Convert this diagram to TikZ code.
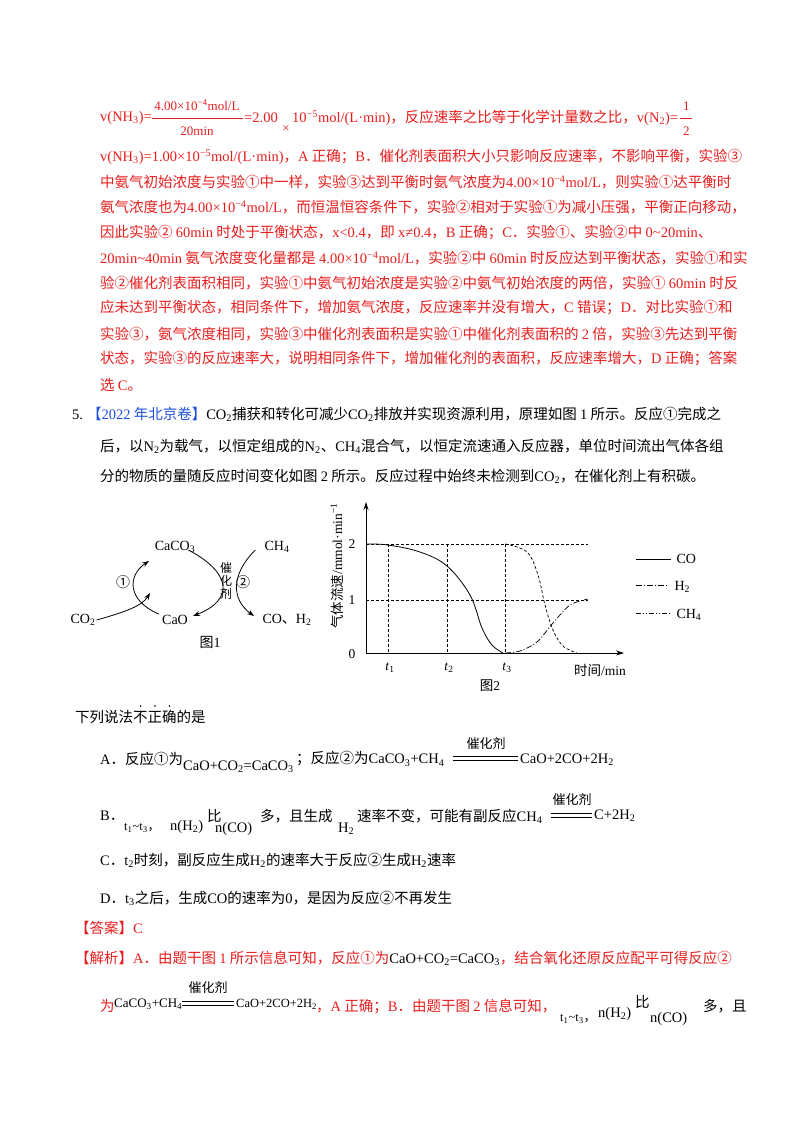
\documentclass[tikz,border=0pt]{standalone}
\usepackage{fontspec}
\setmainfont{Noto Sans CJK SC}
\newfontfamily\tmf{Liberation Serif}
\usetikzlibrary{arrows.meta}
\definecolor{rd}{RGB}{232,30,30}
\definecolor{bl}{RGB}{30,80,220}
\newcommand\tm[1]{{\tmf #1}}
\newcommand\dn[1]{\textsubscript{#1}}
\newcommand\up[1]{\textsuperscript{#1}}
\tikzset{
 tx/.style={anchor=west,inner sep=0pt,font=\fontsize{14.5}{16}\selectfont},
 sm/.style={anchor=center,inner sep=0pt,font=\fontsize{13}{14}\selectfont},
 ar/.style={-{Stealth[length=7pt,width=5pt]},line width=0.8pt},
 gl/.style={line width=0.5pt},
}
\begin{document}
\begin{tikzpicture}[x=1pt,y=-1pt]
\useasboundingbox[fill=white] (0,0) rectangle (800,1132);
% ---- line 1 ----
\begin{scope}[rd]
\node[tx,text=rd] (a1) at (100,118) {\tm{v(NH\dn{3})=}};
\draw[rd,gl] (152,118) -- (243,118);
\node[sm,text=rd] (a1n) at (197,105) {\tm{4.00×10\up{−4}mol/L}};
\node[sm,text=rd] (a1d) at (197,131) {\tm{20min}};
\node[tx,text=rd] (a1e) at (244,118) {\tm{=2.00}};
\node[sm,text=rd] (a1x) at (286,129) {\tm{×}};
\node[tx,text=rd] (a1f) at (292,118) {\tm{10\up{−5}mol/(L·min)}，反应速率之比等于化学计量数之比，\tm{v(N\dn{2})=}};
\draw[rd,gl] ([xshift=2pt]a1f.east) -- ([xshift=14pt]a1f.east);
\node[sm,text=rd] (h1) at ([xshift=8pt,yshift=12pt]a1f.east) {\tm{1}};
\node[sm,text=rd] (h2) at ([xshift=8pt,yshift=-13pt]a1f.east) {\tm{2}};
% ---- paragraph ----
\node[tx,text=rd] (p1) at (100,157) {\tm{v(NH\dn{3})=1.00×10\up{−5}mol/(L·min)}，\tm{A} 正确；\tm{B}．催化剂表面积大小只影响反应速率，不影响平衡，实验③};
\node[tx,text=rd] (p2) at (100,182) {中氨气初始浓度与实验①中一样，实验③达到平衡时氨气浓度为\tm{4.00×10\up{−4}mol/L}，则实验①达平衡时};
\node[tx,text=rd] (p3) at (100,207) {氨气浓度也为\tm{4.00×10\up{−4}mol/L}，而恒温恒容条件下，实验②相对于实验①为减小压强，平衡正向移动，};
\node[tx,text=rd] (p4) at (100,233) {因此实验② \tm{60min} 时处于平衡状态，\tm{x<0.4}，即 \tm{x≠0.4}，\tm{B} 正确；\tm{C}．实验①、实验②中 \tm{0\textasciitilde 20min}、};
\node[tx,text=rd] (p5) at (100,258) {\tm{20min\textasciitilde 40min} 氨气浓度变化量都是 \tm{4.00×10\up{−4}mol/L}，实验②中 \tm{60min} 时反应达到平衡状态，实验①和实};
\node[tx,text=rd] (p6) at (100,283) {验②催化剂表面积相同，实验①中氨气初始浓度是实验②中氨气初始浓度的两倍，实验① \tm{60min} 时反};
\node[tx,text=rd] (p7) at (100,308) {应未达到平衡状态，相同条件下，增加氨气浓度，反应速率并没有增大，\tm{C} 错误；\tm{D}．对比实验①和};
\node[tx,text=rd] (p8) at (100,334) {实验③，氨气浓度相同，实验③中催化剂表面积是实验①中催化剂表面积的 \tm{2} 倍，实验③先达到平衡};
\node[tx,text=rd] (p9) at (100,359) {状态，实验③的反应速率大，说明相同条件下，增加催化剂的表面积，反应速率增大，\tm{D} 正确；答案};
\node[tx,text=rd] (p10) at (100,385) {选 \tm{C}。};
\end{scope}
% ---- question 5 ----
\node[tx] (q0) at (72,414) {\tm{5.}\hspace{4pt}\textcolor{bl}{【\tm{2022} 年北京卷】}\tm{CO\dn{2}}捕获和转化可减少\tm{CO\dn{2}}排放并实现资源利用，原理如图 \tm{1} 所示。反应①完成之};
\node[tx] (q1) at (100,446) {后，以\tm{N\dn{2}}为载气，以恒定组成的\tm{N\dn{2}}、\tm{CH\dn{4}}混合气，以恒定流速通入反应器，单位时间流出气体各组};
\node[tx] (q2) at (100,476) {分的物质的量随反应时间变化如图 \tm{2} 所示。反应过程中始终未检测到\tm{CO\dn{2}}，在催化剂上有积碳。};
% ---- figure 1 ----
\begin{scope}[font=\fontsize{14}{15}\selectfont]
\node[inner sep=1pt] (caco3) at (175,547) {\tm{CaCO\dn{3}}};
\node[inner sep=1pt] (ch4) at (277,547) {\tm{CH\dn{4}}};
\node[inner sep=1pt] (c1) at (123,582) {①};
\node[inner sep=1pt] (c2) at (243,582) {②};
\node[inner sep=0pt,align=center,font=\fontsize{12}{13}\selectfont] (cat) at (226,581) {催\\化\\剂};
\node[inner sep=1pt] (co2) at (83,620) {\tm{CO\dn{2}}};
\node[inner sep=1pt] (cao) at (175,620) {\tm{CaO}};
\node[inner sep=1pt] (coh2) at (287,620) {\tm{CO}、\tm{H\dn{2}}};
\node[inner sep=1pt] (f1) at (210,642) {图\tm{1}};
\end{scope}
\draw[ar] (cao.north west) ++(-2,0) coordinate (l0) .. controls (126,600) and (128,575) .. (149,561);
\draw[ar] (co2.east) .. controls (125,612) and (142,606) .. (150,593);
\draw[ar] (caco3.east) ++(-8,3) .. controls (232,573) and (234,600) .. (193,616);
\draw[ar] (ch4.west) ++(-8,3) .. controls (230,575) and (232,600) .. (254,616);
% ---- figure 2 ----
\draw[-{Stealth[length=8pt,width=5pt]},line width=0.7pt] (366,653) coordinate (o) -- (366,502) coordinate (yt);
\draw[-{Stealth[length=8pt,width=5pt]},line width=0.7pt] (o) -- (624,653) coordinate (xt);
\begin{scope}[font=\fontsize{13.5}{14}\selectfont]
\node (y2) at (352,544) {\tm{2}};
\node (y1) at (352,600) {\tm{1}};
\node (y0) at (352,654) {\tm{0}};
\node (t1) at (390,668) {\tm{\textit{t}\dn{1}}};
\node (t2) at (449,668) {\tm{\textit{t}\dn{2}}};
\node (t3) at (507,668) {\tm{\textit{t}\dn{3}}};
\node (tm) at (600,670) {时间\tm{/min}};
\node (f2) at (490,686) {图\tm{2}};
\node[rotate=90] (yl) at (337,566) {气体流速\tm{/mmol·min\up{−1}}};
\end{scope}
\draw[densely dashed,line width=0.5pt] (366,544) -- (588,544);
\draw[densely dashed,line width=0.5pt] (366,600) -- (588,600);
\foreach \x in {388,447,505} \draw[densely dashed,line width=0.5pt] (\x,544) -- (\x,653);
\draw[line width=0.8pt] plot[smooth,tension=0.6] coordinates {(366,544) (388,545) (420,552) (447,566) (470,595) (482,628) (492,645) (503,653)};
\draw[line width=0.7pt,dash pattern=on 6pt off 2pt on 1pt off 2pt] plot[smooth] coordinates {(505,653) (520,651) (537,642) (553,623) (570,605) (588,599)};
\draw[line width=0.7pt,dash pattern=on 3pt off 2pt] plot[smooth,tension=0.6] coordinates {(505,544) (527,552) (538,575) (545,605) (553,630) (563,646) (577,653)};
% legend
\draw[line width=0.8pt] (636,559) coordinate (lg1) -- (671,559) coordinate (lg1e);
\draw[line width=0.7pt,dash pattern=on 6pt off 2pt on 1pt off 2pt] (636,585) coordinate (lg2) -- (668,585) coordinate (lg2e);
\draw[line width=0.7pt,dash pattern=on 5pt off 2pt on 1pt off 2pt on 1pt off 2pt] (636,613) coordinate (lg3) -- (670,613) coordinate (lg3e);
\begin{scope}[font=\fontsize{14}{15}\selectfont]
\node[anchor=west] (lc) at (673,559) {\tm{CO}};
\node[anchor=west] (lh) at (671,587) {\tm{H\dn{2}}};
\node[anchor=west] (lm) at (673,615) {\tm{CH\dn{4}}};
\end{scope}
% ---- options ----
\node[tx] (st) at (75,717) {下列说法不正确的是};
\foreach \x in {140.5,155,169.5} \fill (\x,706) circle (0.9pt);
\node[tx] (oa1) at (100,759) {\tm{A}．反应①为};
\node[tx] (oa2) at (183,767) {\tm{CaO+CO\dn{2}=CaCO\dn{3}}};
\node[tx] (oa3) at (296,759) {；反应②为\tm{CaCO\dn{3}+CH\dn{4}}};
\draw[gl] (453,756) -- (518,756) (453,760) -- (518,760);
\node[sm] (oa4) at (486,744) {催化剂};
\node[tx] (oa5) at (520,760) {\tm{CaO+2CO+2H\dn{2}}};
\node[tx] (ob1) at (100,816) {\tm{B}．};
\node[tx,font=\fontsize{12.5}{13}\selectfont] (ob2) at (124,828) {\tm{t\dn{1}\textasciitilde t\dn{3}}，};
\node[tx] (ob3) at (170,827) {\tm{n(H\dn{2})}};
\node[tx] (ob4) at (207,816) {比};
\node[tx] (ob5) at (215,829) {\tm{n(CO)}};
\node[tx] (ob6) at (260,816) {多，且生成};
\node[tx] (ob7) at (338,829) {\tm{H\dn{2}}};
\node[tx] (ob8) at (357,816) {速率不变，可能有副反应\tm{CH\dn{4}}};
\draw[gl] (551,813) -- (592,813) (551,817) -- (592,817);
\node[sm] (ob9) at (572,800) {催化剂};
\node[tx] (ob10) at (594,816) {\tm{C+2H\dn{2}}};
\node[tx] (oc) at (100,860) {\tm{C}．\tm{t\dn{2}}时刻，副反应生成\tm{H\dn{2}}的速率大于反应②生成\tm{H\dn{2}}速率};
\node[tx] (od) at (100,898) {\tm{D}．\tm{t\dn{3}}之后，生成\tm{CO}的速率为\tm{0}，是因为反应②不再发生};
\node[tx,text=rd] (ans) at (75,928) {【答案】\tm{C}};
\node[tx,text=rd] (ex1) at (75,958) {【解析】\tm{A}．由题干图 \tm{1} 所示信息可知，反应①为\textcolor{black}{\tm{CaO+CO\dn{2}=CaCO\dn{3}}}，结合氧化还原反应配平可得反应②};
\node[tx,text=rd] (ex2) at (100,1006) {为};
\node[tx,font=\fontsize{13}{14}\selectfont] (ex3) at (114,1004) {\tm{CaCO\dn{3}+CH\dn{4}}};
\draw[gl] (182,1001) -- (234,1001) (182,1005) -- (234,1005);
\node[sm] (ex4) at (208,988) {催化剂};
\node[tx,font=\fontsize{12.5}{13}\selectfont] (ex5) at (236,1004) {\tm{CaO+2CO+2H\dn{2}}};
\node[tx,text=rd] (ex6) at (316,1006) {，\tm{A} 正确；\tm{B}．由题干图 \tm{2} 信息可知，};
\node[tx,font=\fontsize{12.5}{13}\selectfont] (ex7) at (560,1019) {\tm{t\dn{1}\textasciitilde t\dn{3}}，};
\node[tx] (ex8) at (598,1014) {\tm{n(H\dn{2})}};
\node[tx] (ex9) at (635,1002) {比};
\node[tx] (ex10) at (650,1019) {\tm{n(CO)}};
\node[tx] (ex11) at (703,1006) {多，且};
\end{tikzpicture}
\end{document}
